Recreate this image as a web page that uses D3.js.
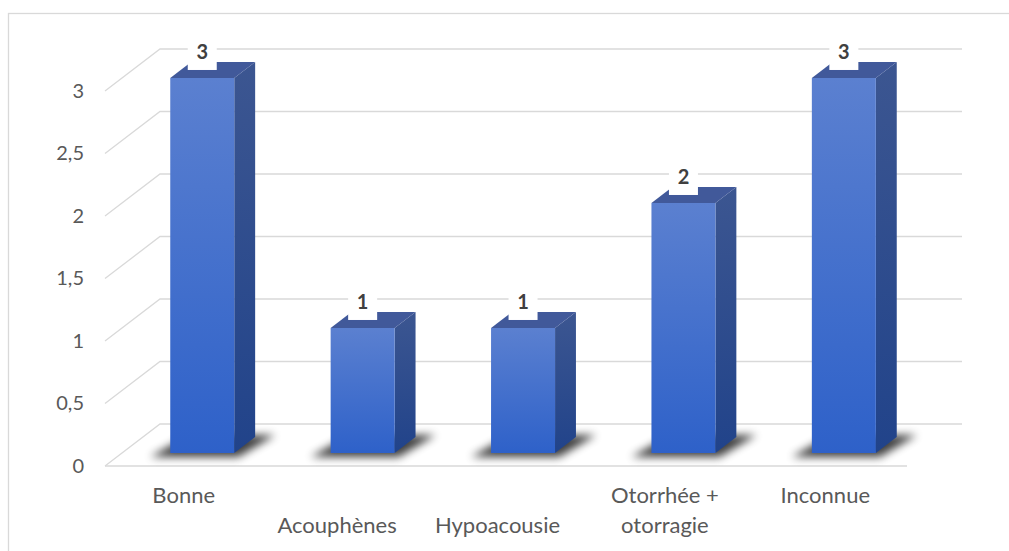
<!DOCTYPE html>
<html>
<head>
<meta charset="utf-8">
<script src="https://cdn.jsdelivr.net/npm/d3@7"></script>
<style>
  html, body { margin: 0; padding: 0; background: #fff; }
  svg { display: block; }
</style>
</head>
<body>
<div id="chart"></div>
<script>
// Chart data
const categories = ["Bonne", "Acouphènes", "Hypoacousie", "Otorrhée + otorragie", "Inconnue"];
const categoryLines = [["Bonne"], ["Acouphènes"], ["Hypoacousie"], ["Otorrhée +", "otorragie"], ["Inconnue"]];
const values = [3, 1, 1, 2, 3];
const yTicks = [0, 0.5, 1, 1.5, 2, 2.5, 3];
const yTickLabels = ["0", "0,5", "1", "1,5", "2", "2,5", "3"];

const W = 1009, H = 551;
const svg = d3.select("#chart").append("svg").attr("width", W).attr("height", H);

// Outer chart frame
svg.append("rect").attr("x", 8.5).attr("y", 13.5).attr("width", W + 20).attr("height", H + 20)
  .attr("fill", "none").attr("stroke", "#d9d9d9").attr("stroke-width", 1.3);

// 3D layout: back wall scales plus a depth vector toward the viewer
const x = d3.scaleBand(categories, [160, 962]);
const y = d3.scaleLinear([0, 3], [424, 49]);
const DX = -55, DY = 42;
const proj = (px, v, d) => [px + DX * d, y(v) + DY * d];
const dFront = 0.69, dBack = 0.31;
const halfW = 32;

const defs = svg.append("defs");
const gFront = defs.append("linearGradient").attr("id", "gFront").attr("x1", 0).attr("y1", 0).attr("x2", 0).attr("y2", 1);
gFront.append("stop").attr("offset", "0%").attr("stop-color", "#5b80d0");
gFront.append("stop").attr("offset", "100%").attr("stop-color", "#2e61c9");
const gSide = defs.append("linearGradient").attr("id", "gSide").attr("x1", 0).attr("y1", 0).attr("x2", 0).attr("y2", 1);
gSide.append("stop").attr("offset", "0%").attr("stop-color", "#3c5691");
gSide.append("stop").attr("offset", "100%").attr("stop-color", "#21438a");
defs.append("filter").attr("id", "blur").attr("x", "-50%").attr("y", "-100%").attr("width", "200%").attr("height", "300%")
  .append("feGaussianBlur").attr("stdDeviation", 4);

// Gridlines: back wall, left wall diagonals and the floor front edge
const grid = svg.append("g").attr("stroke", "#d9d9d9").attr("stroke-width", 1.3).attr("fill", "none");
const [xl, xr] = x.range();
yTicks.forEach(t => {
  const [bx, by] = proj(xl, t, 0);
  const [fx, fy] = proj(xl, t, 1);
  grid.append("path").attr("d", `M${fx},${fy}L${bx},${by}L${xr},${by}`);
});
{
  const [fx, fy] = proj(xl, 0, 1);
  const [ex] = proj(xr, 0, 1);
  grid.append("line").attr("x1", fx).attr("y1", fy).attr("x2", ex).attr("y2", fy);
}

const path = pts => "M" + pts.map(p => p.join(",")).join("L") + "Z";

const bars = svg.append("g");
categories.forEach((c, i) => {
  const v = values[i];
  const cx = x(c) + x.bandwidth() / 2;
  const L = cx - halfW, R = cx + halfW;
  const fl0 = proj(L, 0, dFront), fr0 = proj(R, 0, dFront), br0 = proj(R, 0, dBack), bl0 = proj(L, 0, dBack);
  const flv = proj(L, v, dFront), frv = proj(R, v, dFront), brv = proj(R, v, dBack), blv = proj(L, v, dBack);

  // soft floor shadow
  bars.append("path")
    .attr("d", path([[fl0[0] - 20, fl0[1] + 4], [fr0[0] + 4, fr0[1] + 4], [br0[0] + 20, br0[1] - 2], [bl0[0] - 2, bl0[1] - 2]]))
    .attr("fill", "#000").attr("opacity", 0.75).attr("filter", "url(#blur)");

  bars.append("path").attr("d", path([frv, brv, br0, fr0])).attr("fill", "url(#gSide)");
  bars.append("path").attr("d", path([flv, frv, brv, blv])).attr("fill", "#41599a");
  bars.append("path").attr("d", path([flv, frv, fr0, fl0])).attr("fill", "url(#gFront)");

  // value label on a white box
  const lx = (flv[0] + frv[0]) / 2, ty = flv[1];
  bars.append("rect").attr("x", lx - 14.5).attr("y", ty - 38).attr("width", 29).attr("height", 30).attr("fill", "#fff");
  bars.append("text").attr("x", lx).attr("y", ty - 19).attr("text-anchor", "middle")
    .attr("font-family", "Lato, sans-serif").attr("font-weight", 700).attr("font-size", 20).attr("fill", "#404040")
    .text(v);
});

// Value axis along the front-left edge
const yFront = d3.scaleLinear([0, 3], [y(0) + DY, y(3) + DY]);
const yAxis = svg.append("g").attr("transform", `translate(${xl + DX},0)`)
  .call(d3.axisLeft(yFront).tickValues(yTicks).tickSize(0).tickPadding(21)
    .tickFormat((d, i) => yTickLabels[i]));
yAxis.select(".domain").remove();
yAxis.selectAll("text").attr("font-family", "Lato, sans-serif").attr("font-size", 20).attr("fill", "#595959");

// Category labels along the front floor edge, staggered on two rows
const xFront = d3.scaleBand(categories, [xl + DX, xr + DX]);
const secondRow = new Set(["Acouphènes", "Hypoacousie"]);
const catG = svg.append("g").attr("font-family", "Lato, sans-serif").attr("font-size", 22).attr("fill", "#595959");
categories.forEach((c, i) => {
  const cx = xFront(c) + xFront.bandwidth() / 2 - 1.5 - (secondRow.has(c) ? 7 : 0);
  const base = secondRow.has(c) ? 533 : 503;
  const t = catG.append("text").attr("text-anchor", "middle").attr("x", cx).attr("y", base);
  categoryLines[i].forEach((line, k) => {
    t.append("tspan").attr("x", cx).attr("dy", k === 0 ? 0 : 29.5).text(line);
  });
});
</script>
</body>
</html>
